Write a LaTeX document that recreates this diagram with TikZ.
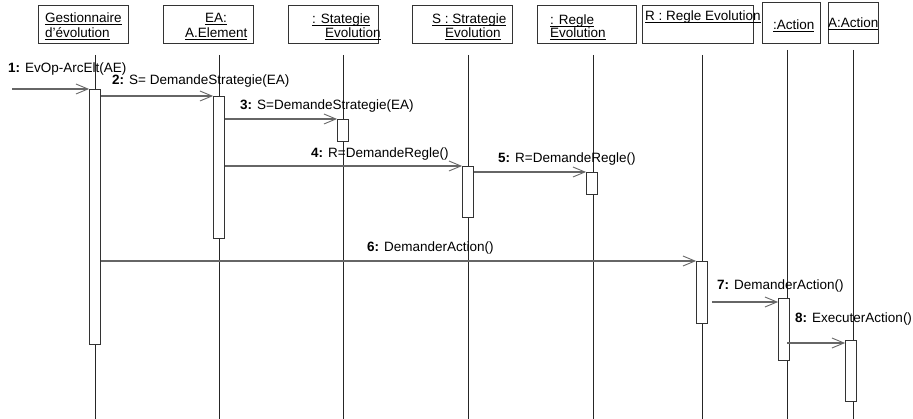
\documentclass[tikz,border=0pt]{standalone}
\usepackage{fontspec}
\setmainfont{Liberation Sans}
\usetikzlibrary{arrows.meta}
\newcommand\myul[1]{\setbox0=\hbox{#1}\rlap{\rule[-2pt]{\wd0}{0.8pt}}\box0}
\begin{document}
\begin{tikzpicture}[x=1pt,y=1pt,
  font=\fontsize{13.5}{15}\selectfont,
  headbox/.style={draw=black!80, line width=0.8pt, anchor=north west, inner sep=0pt, minimum height=38pt},
  headtxt/.style={anchor=base west, inner sep=0pt},
  life/.style={draw=black!85, line width=0.7pt},
  act/.style={draw=black!80, line width=0.8pt, fill=white, anchor=north, inner sep=0pt, minimum width=11pt},
  msg/.style={draw=black!60, line width=1.1pt, -{Straight Barb[length=12pt,width=10pt,line width=0.9pt]}},
  lbl/.style={anchor=base west, inner sep=0pt}]
\useasboundingbox (0,0) rectangle (913,-419);
% header boxes
\node[headbox, minimum width=90pt] (hG) at (38,-5) {};
\node[headbox, minimum width=90pt] (hE) at (163,-5) {};
\node[headbox, minimum width=90pt] (hS) at (288,-5) {};
\node[headbox, minimum width=100pt] (hSS) at (412,-5) {};
\node[headbox, minimum width=99pt] (hR) at (537,-5) {};
\node[headbox, minimum width=111pt] (hRR) at (642,-5) {};
\node[headbox, minimum width=58pt, minimum height=41pt] (hA) at (762,-2) {};
\node[headbox, minimum width=50pt, minimum height=41pt] (hAA) at (828,-2) {};
% header texts
\node[headtxt] (tG1) at (45,-23) {\myul{Gestionnaire}};
\node[headtxt] (tG2) at (45,-37.5) {\myul{d'évolution}};
\node[headtxt] (tE1) at (205,-23) {\myul{EA:}};
\node[headtxt] (tE2) at (185,-37.5) {\myul{A.Element}};
\node[headtxt] (tS1) at (312,-24) {\myul{: Stategie}};
\node[headtxt] (tS2) at (325,-37.5) {\myul{Evolution}};
\node[headtxt] (tSS1) at (432,-24) {\myul{S : Strategie}};
\node[headtxt] (tSS2) at (445,-37.5) {\myul{Evolution}};
\node[headtxt] (tR1) at (550,-24.5) {\myul{: Regle}};
\node[headtxt] (tR2) at (550,-38) {\myul{Evolution}};
\node[headtxt] (tRR) at (645,-21) {\myul{R : Regle Evolution}};
\node[headtxt] (tA) at (773,-30) {\myul{:Action}};
\node[headtxt] (tAA) at (828,-28) {\myul{A:Action}};
% lifelines
\draw[life] (95,-55) -- (95,-419);
\draw[life] (219,-55) -- (219,-419);
\draw[life] (343,-55) -- (343,-419);
\draw[life] (468,-55) -- (468,-419);
\draw[life] (593,-55) -- (593,-419);
\draw[life] (702,-55) -- (702,-419);
\draw[life] (787,-50) -- (787,-419);
\draw[life] (853,-50) -- (853,-419);
% activations
\node[act, minimum height=255pt] (aG) at (95,-89) {};
\node[act, minimum height=142pt] (aE) at (219,-96) {};
\node[act, minimum height=22pt] (aS) at (343,-119) {};
\node[act, minimum height=51pt] (aSS) at (468,-166) {};
\node[act, minimum height=22pt] (aR) at (592,-172) {};
\node[act, minimum height=62pt] (aRR) at (702,-261) {};
\node[act, minimum height=62pt] (aA) at (784,-298) {};
\node[act, minimum height=61pt] (aAA) at (851,-340) {};
% messages
\coordinate (start) at (12,-89);
\draw[msg] (start) -- (aG.north west);
\draw[msg] (aG.east |- aE.north) -- (aE.north west);
\draw[msg] (aE.east |- aS.north) -- (aS.north west);
\draw[msg] (aE.east |- aSS.north) -- (aSS.north west);
\draw[msg] (aSS.east |- aR.north) -- (aR.north west);
\draw[msg] (aG.east |- aRR.north) -- (aRR.north west);
\coordinate (m7) at ([xshift=4pt,yshift=-4pt]aRR.east |- aA.north);
\draw[msg] (m7) -- (aA.west |- m7);
\coordinate (m8) at ([xshift=3pt,yshift=-3pt]aA.north |- aAA.north);
\draw[msg] (m8) -- (aAA.west |- m8);
% labels
\node[lbl] (l1) at (8,-73) {\textbf{1:} EvOp-ArcElt(AE)};
\node[lbl] (l2) at (112,-85) {\textbf{2:} S= DemandeStrategie(EA)};
\node[lbl] (l3) at (240,-110) {\textbf{3:} S=DemandeStrategie(EA)};
\node[lbl] (l4) at (311,-158) {\textbf{4:} R=DemandeRegle()};
\node[lbl] (l5) at (498,-163) {\textbf{5:} R=DemandeRegle()};
\node[lbl] (l6) at (367,-252) {\textbf{6:} DemanderAction()};
\node[lbl] (l7) at (717,-290) {\textbf{7:} DemanderAction()};
\node[lbl] (l8) at (795,-323) {\textbf{8:} ExecuterAction()};
\end{tikzpicture}
\end{document}
